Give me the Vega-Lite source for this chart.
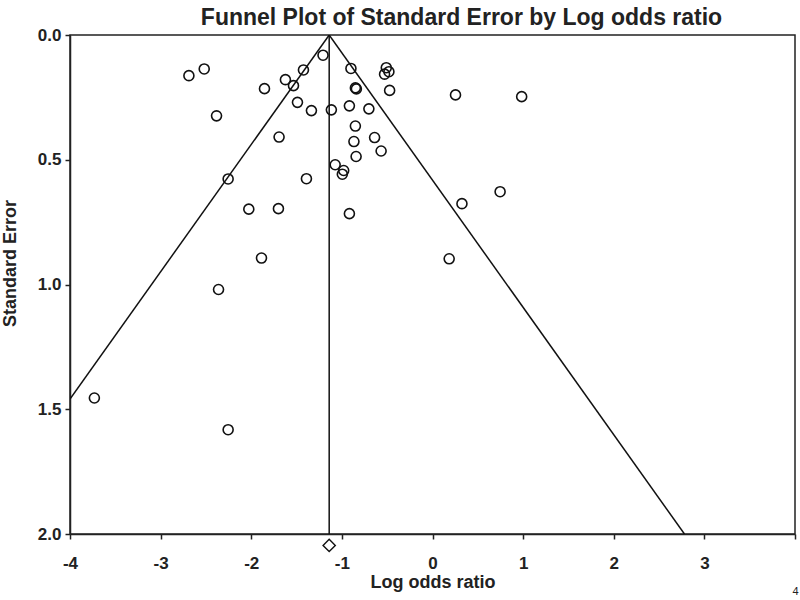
{
  "$schema": "https://vega.github.io/schema/vega-lite/v6.json",
  "autosize": {"type": "none"},
  "padding": {"left": 70, "top": 35, "right": 5, "bottom": 66},
  "width": 725,
  "height": 499,
  "background": "white",
  "config": {
    "view": {"stroke": "#222", "strokeWidth": 1.5},
    "font": "Liberation Sans, Arial, sans-serif"
  },
  "title": {
    "text": "Funnel Plot of Standard Error by Log odds ratio",
    "font": "Liberation Sans, Arial, sans-serif",
    "fontSize": 23,
    "fontWeight": "bold",
    "color": "#222",
    "anchor": "middle",
    "frame": "group",
    "dx": 29,
    "offset": -4
  },
  "datasets": {
    "studies": [
      {"lor": -2.688, "se": 0.163},
      {"lor": -2.519, "se": 0.136},
      {"lor": -2.383, "se": 0.324},
      {"lor": -1.854, "se": 0.215},
      {"lor": -1.623, "se": 0.179},
      {"lor": -1.534, "se": 0.203},
      {"lor": -1.424, "se": 0.140},
      {"lor": -1.208, "se": 0.081},
      {"lor": -1.490, "se": 0.270},
      {"lor": -1.336, "se": 0.303},
      {"lor": -1.116, "se": 0.300},
      {"lor": -1.693, "se": 0.409},
      {"lor": -2.255, "se": 0.577},
      {"lor": -1.391, "se": 0.576},
      {"lor": -0.900, "se": 0.134},
      {"lor": -0.851, "se": 0.212},
      {"lor": -0.840, "se": 0.216},
      {"lor": -0.917, "se": 0.284},
      {"lor": -0.702, "se": 0.296},
      {"lor": -0.851, "se": 0.365},
      {"lor": -0.867, "se": 0.427},
      {"lor": -0.639, "se": 0.411},
      {"lor": -0.567, "se": 0.465},
      {"lor": -0.843, "se": 0.487},
      {"lor": -1.074, "se": 0.520},
      {"lor": -0.980, "se": 0.543},
      {"lor": -0.995, "se": 0.558},
      {"lor": -0.510, "se": 0.131},
      {"lor": -0.481, "se": 0.147},
      {"lor": -0.529, "se": 0.157},
      {"lor": -0.473, "se": 0.222},
      {"lor": 0.254, "se": 0.240},
      {"lor": 0.984, "se": 0.247},
      {"lor": 0.746, "se": 0.628},
      {"lor": 0.325, "se": 0.676},
      {"lor": -0.917, "se": 0.716},
      {"lor": -2.027, "se": 0.698},
      {"lor": -1.700, "se": 0.696},
      {"lor": -1.887, "se": 0.894},
      {"lor": -2.361, "se": 1.020},
      {"lor": 0.184, "se": 0.897},
      {"lor": -3.731, "se": 1.455},
      {"lor": -2.255, "se": 1.582}
    ],
    "funnel": [
      {"line": "left", "lor": -1.14, "se": 0},
      {"line": "left", "lor": -4.0, "se": 1.459},
      {"line": "right", "lor": -1.14, "se": 0},
      {"line": "right", "lor": 2.78, "se": 2.0},
      {"line": "center", "lor": -1.14, "se": 0},
      {"line": "center", "lor": -1.14, "se": 2.0}
    ],
    "summary": [
      {"lor": -1.14, "se": 2.046}
    ]
  },
  "layer": [
    {
      "data": {"name": "funnel"},
      "mark": {"type": "line", "color": "#111", "strokeWidth": 1.5, "clip": true},
      "encoding": {
        "x": {"field": "lor", "type": "quantitative"},
        "y": {"field": "se", "type": "quantitative"},
        "detail": {"field": "line"}
      }
    },
    {
      "data": {"name": "studies"},
      "mark": {"type": "point", "shape": "circle", "filled": false, "color": "#111", "size": 100, "strokeWidth": 1.6, "opacity": 1},
      "encoding": {
        "x": {"field": "lor", "type": "quantitative"},
        "y": {"field": "se", "type": "quantitative"}
      }
    },
    {
      "data": {"name": "summary"},
      "mark": {"type": "point", "shape": "diamond", "filled": false, "color": "#111", "size": 150, "strokeWidth": 1.4, "opacity": 1, "clip": false},
      "encoding": {
        "x": {
          "field": "lor",
          "type": "quantitative",
          "scale": {"domain": [-4, 4], "nice": false, "zero": false},
          "axis": {
            "title": "Log odds ratio",
            "values": [-4, -3, -2, -1, 0, 1, 2, 3, 4],
            "labelExpr": "datum.value < 0 ? '-' + abs(datum.value) : '' + datum.value",
            "grid": false,
            "labelFlush": false,
            "domainColor": "#222",
            "domainWidth": 1.5,
            "tickColor": "#222",
            "tickWidth": 1.5,
            "tickSize": 5,
            "labelColor": "#222",
            "labelFontWeight": {"condition": {"test": "datum.value == 4", "value": "normal"}, "value": "bold"},
            "labelFontSize": {"condition": {"test": "datum.value == 4", "value": 11}, "value": 17},
            "labelPadding": {"condition": {"test": "datum.value == 4", "value": 46}, "value": 16},
            "titleColor": "#222",
            "titleFontSize": 18,
            "titleFontWeight": "bold",
            "titleX": 362.5,
            "titleY": 48,
            "titleAlign": "center",
            "titleBaseline": "middle"
          }
        },
        "y": {
          "field": "se",
          "type": "quantitative",
          "scale": {"domain": [0, 2], "nice": false, "zero": false, "reverse": true},
          "axis": {
            "title": "Standard Error",
            "values": [0, 0.5, 1, 1.5, 2],
            "format": ".1f",
            "grid": false,
            "domainColor": "#222",
            "domainWidth": 1.5,
            "tickColor": "#222",
            "tickWidth": 1.5,
            "tickSize": 5,
            "labelColor": "#222",
            "labelFontWeight": "bold",
            "labelFontSize": 17,
            "labelPadding": 4,
            "titleColor": "#222",
            "titleFontSize": 18,
            "titleFontWeight": "bold",
            "titleAngle": 270,
            "titleX": -60,
            "titleY": 228,
            "titleAlign": "center",
            "titleBaseline": "middle"
          }
        }
      }
    }
  ],
  "resolve": {"scale": {"x": "shared", "y": "shared"}}
}
